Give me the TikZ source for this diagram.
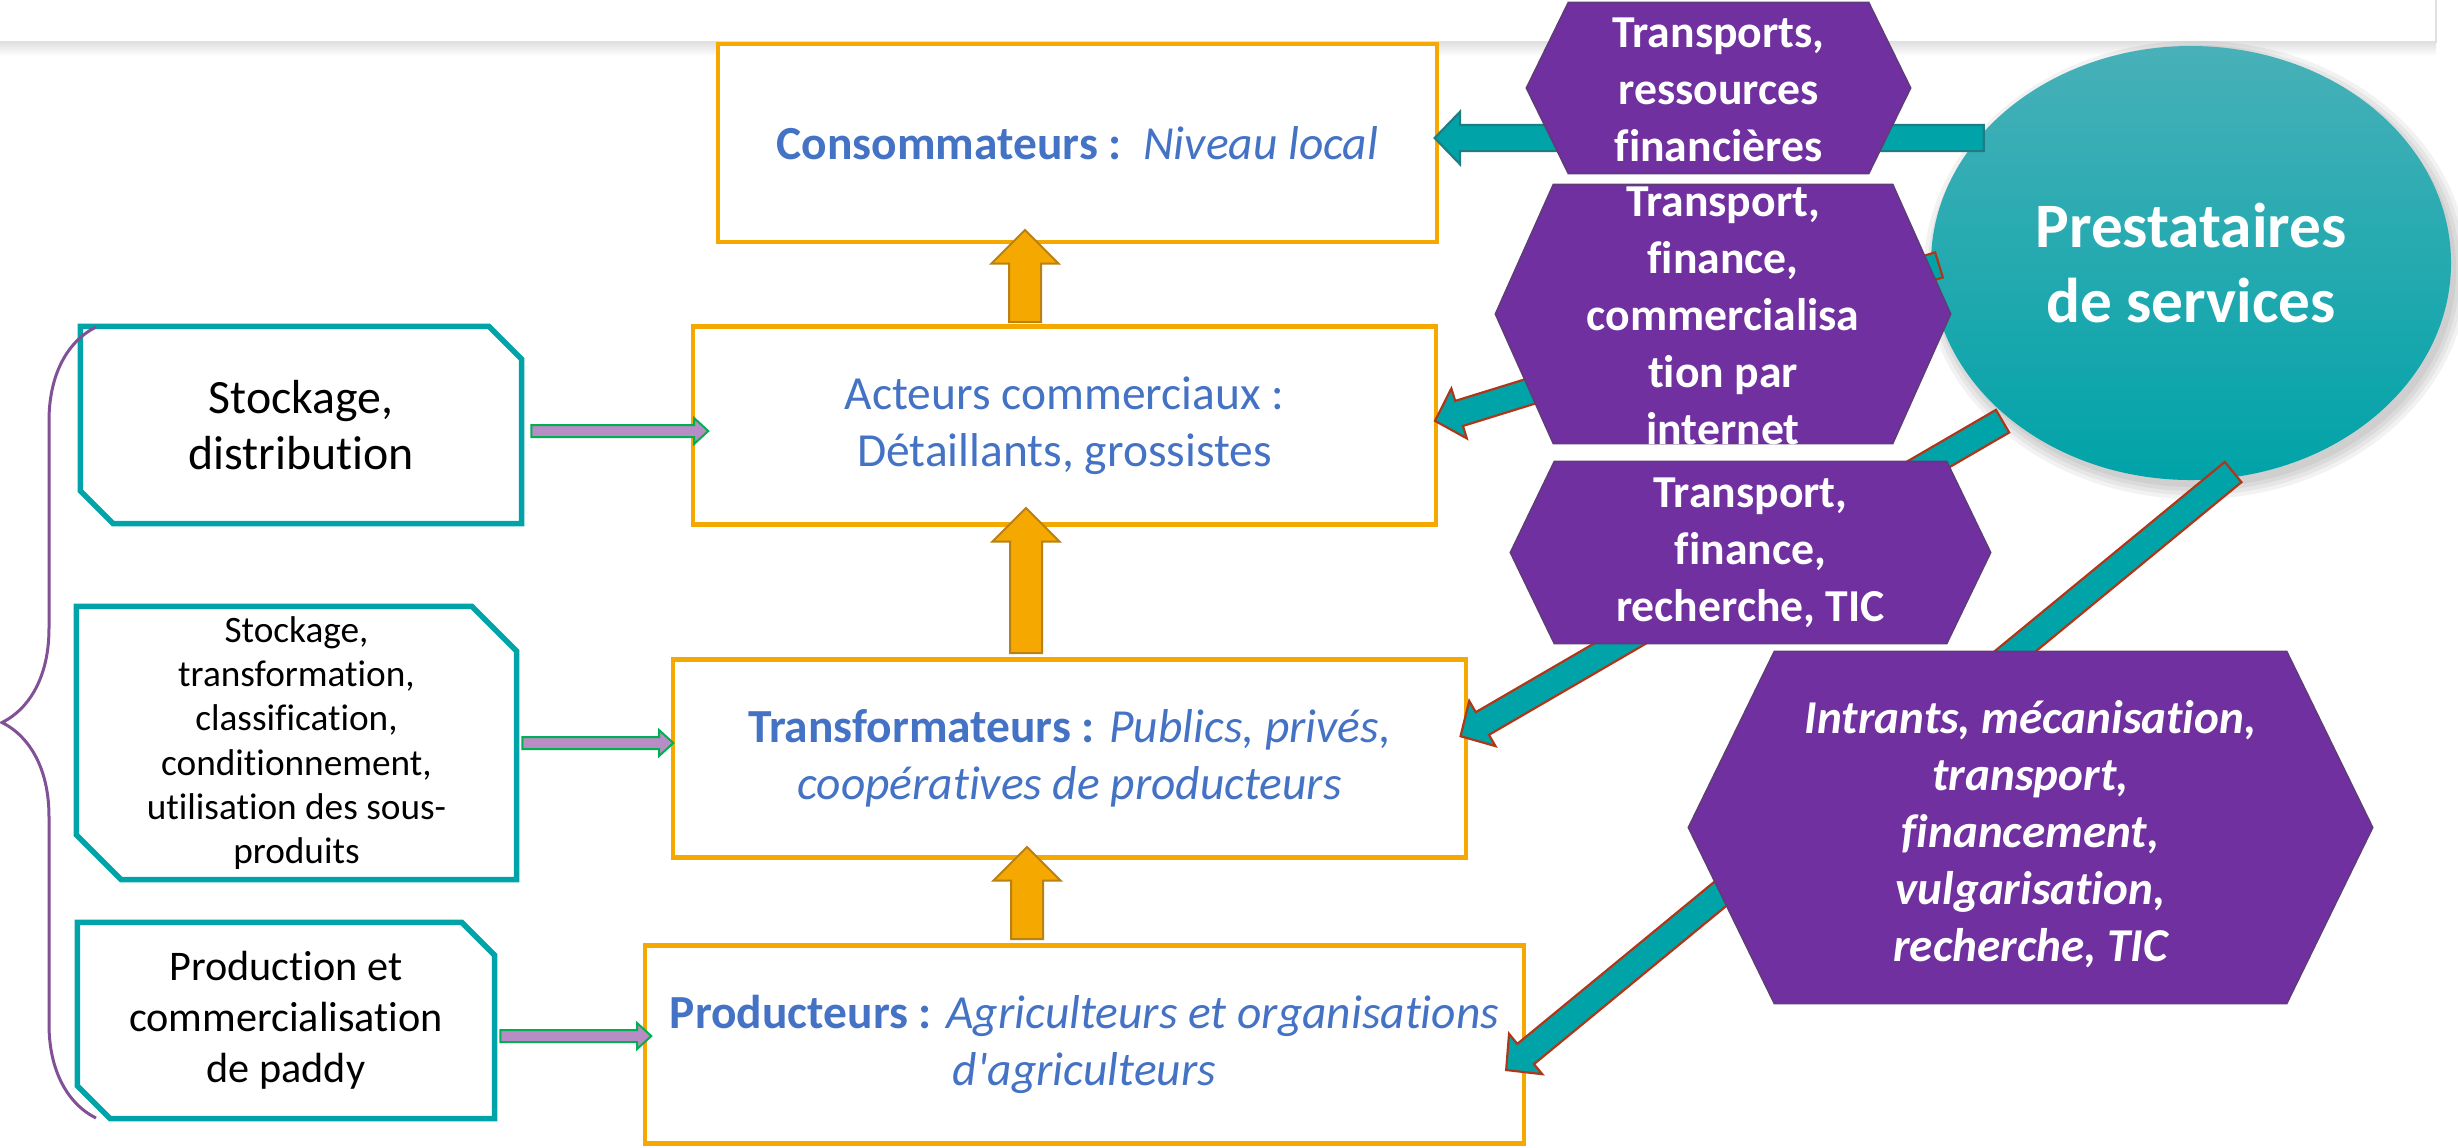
\documentclass[tikz,border=0pt]{standalone}
\usepackage{fontspec}
\setmainfont{Carlito}[Ligatures={TeX,NoCommon}]
\usetikzlibrary{shapes.arrows,shapes.geometric,calc,decorations.pathreplacing}
\newlength{\px}\setlength{\px}{0.01cm}
\definecolor{orng}{RGB}{245,168,0}
\definecolor{orngdk}{RGB}{185,128,20}
\definecolor{tealc}{RGB}{0,164,168}
\definecolor{tealdk}{RGB}{30,125,130}
\definecolor{redbr}{RGB}{175,55,25}
\definecolor{purp}{RGB}{112,48,160}
\definecolor{purpdk}{RGB}{95,60,120}
\definecolor{bluet}{RGB}{68,114,196}
\definecolor{pinkf}{RGB}{184,140,196}
\definecolor{greenb}{RGB}{0,176,80}
\definecolor{bracec}{RGB}{130,80,150}
\definecolor{elltop}{RGB}{72,176,184}
\definecolor{ellbot}{RGB}{0,163,168}
\newcommand\myhex[2]{\filldraw[fill=purp, draw=purpdk, line width=1.5\px] (#1.west) -- ([xshift=#2]#1.north west) -- ([xshift=-#2]#1.north east) -- (#1.east) -- ([xshift=-#2]#1.south east) -- ([xshift=#2]#1.south west) -- cycle;}
\newcommand\snip[2]{\draw[lline] ([xshift=-#2]#1.north east) -- (#1.north west) -- ([yshift=#2]#1.south west) -- ([xshift=#2]#1.south west) -- (#1.south east) -- ([yshift=-#2]#1.north east) -- cycle;}
\newcommand\barrow[4]{\path let \p1=(#3), \p2=(#4), \n1={veclen(\x2-\x1,\y2-\y1)}, \n2={atan2(\y2-\y1,\x2-\x1)} in node[#1, minimum height=\n1, rotate=\n2] (#2) at ($(#3)!0.5!(#4)$) {};}
\begin{document}
\begin{tikzpicture}[x=0.01cm, y=-0.01cm,
  obox/.style={draw=orng, line width=4.5\px, fill=white, minimum height=198\px, align=center, text=bluet, font=\fontsize{13.5}{16.2}\selectfont, inner sep=0pt},
  lbox/.style={align=center, inner sep=0pt, text=black},
  lline/.style={draw=tealc, line width=5.5\px, line join=miter},
  hexbox/.style={inner sep=0pt},
  hextext/.style={align=center, text=white, inner sep=0pt, font=\bfseries\fontsize{13}{16.2}\selectfont},
  oarrow/.style={single arrow, fill=orng, draw=orngdk, line width=2\px, inner xsep=0pt, inner ysep=15\px, single arrow head extend=17.5\px, single arrow tip angle=90},
  parrow/.style={single arrow, fill=pinkf, draw=greenb, line width=2\px, inner xsep=0pt, inner ysep=5\px, single arrow head extend=7\px, single arrow tip angle=85},
  tarrow/.style={single arrow, fill=tealc, draw=redbr, line width=2.2\px, inner xsep=0pt, inner ysep=12\px, single arrow head extend=13\px, single arrow tip angle=92}
]
\useasboundingbox (0,0) rectangle (2458,1147);
% header strip
\shade[top color=black!12, bottom color=white] (0,42) rectangle (2436,56);
\draw[black!12, line width=2\px] (0,42) -- (2436,42) -- (2436,0);
% ellipse shadow
\foreach \d in {12,8,4,0} {\fill[black, opacity=0.05] (2196,270) ellipse [x radius={2.6cm+\d*0.01cm}, y radius={2.17cm+\d*0.01cm}];}
\node[ellipse, minimum width=520\px, minimum height=434\px, top color=elltop, bottom color=ellbot, draw=none, text=white, font=\bfseries\fontsize{18}{21.3}\selectfont, align=center, inner sep=0pt] (prest) at (2191,263) {Prestataires\\de services};
% orange boxes
\node[obox, minimum width=719\px] (box1) at (1077.5,143) {\textbf{Consommateurs :}\ \ \textit{Niveau local}};
\node[obox, minimum width=743\px] (box2) at (1064.5,425.5) {Acteurs commerciaux :\\Détaillants, grossistes};
\node[obox, minimum width=793\px] (box3) at (1069.5,758.5) {\textbf{Transformateurs :} \textit{Publics, privés,}\\\textit{coopératives de producteurs}};
\node[obox, minimum width=879\px] (box4) at (1084.5,1044.5) {\textbf{Producteurs :} \textit{Agriculteurs et organisations}\\\textit{d\textquotesingle agriculteurs}};
% left boxes
\node[lbox, minimum width=440\px, minimum height=196\px, font=\fontsize{13.6}{16}\selectfont] (sA) at (301,425) {Stockage,\\distribution};
\snip{sA}{33\px}
\node[lbox, minimum width=439\px, minimum height=272\px, font=\fontsize{10.6}{12.6}\selectfont] (sB) at (296.5,743) {Stockage,\\transformation,\\classification,\\conditionnement,\\utilisation des sous-\\produits};
\snip{sB}{45\px}
\node[lbox, minimum width=416\px, minimum height=195\px, font=\fontsize{12}{14.5}\selectfont] (sC) at (286,1020.5) {Production et\\commercialisation\\de paddy};
\snip{sC}{33\px}
% brace
\coordinate (brb) at (96,1118);
\coordinate (brt) at (96,327);
\draw[bracec, line width=3\px, decorate, decoration={brace, amplitude=94\px, aspect=0.5}] (brb) -- (brt);
% orange arrows
\coordinate (oa1s) at (1025,330); \coordinate (oa1e) at (1025,238);
\coordinate (oa2s) at (1026,661); \coordinate (oa2e) at (1026,516);
\coordinate (oa3s) at (1027,947); \coordinate (oa3e) at (1027,855);
\barrow{oarrow}{up1}{oa1s}{oa1e}
\barrow{oarrow}{up2}{oa2s}{oa2e}
\barrow{oarrow}{up3}{oa3s}{oa3e}
% pink arrows
\coordinate (pa1s) at (528,431); \coordinate (pa1e) at (705,431);
\coordinate (pa2s) at (519,743); \coordinate (pa2e) at (670,743);
\coordinate (pa3s) at (497,1036); \coordinate (pa3e) at (648,1036);
\barrow{parrow}{pk1}{pa1s}{pa1e}
\barrow{parrow}{pk2}{pa2s}{pa2e}
\barrow{parrow}{pk3}{pa3s}{pa3e}
% teal arrows
\coordinate (t1s) at (1990,138); \coordinate (t1e) at (1441,138);
\coordinate (t2s) at (1945,263); \coordinate (t2e) at (1441,419);
\coordinate (t3s) at (2008,418); \coordinate (t3e) at (1466,733);
\coordinate (t4s) at (2238,468); \coordinate (t4e) at (1511,1066);
\barrow{tarrow, draw=tealdk}{ta1}{t1s}{t1e}
\barrow{tarrow}{ta2}{t2s}{t2e}
\barrow{tarrow}{ta3}{t3s}{t3e}
\barrow{tarrow}{ta4}{t4s}{t4e}
% hexagons
\node[hexbox, minimum width=383\px, minimum height=170\px] (h1) at (1718.5,88) {};
\myhex{h1}{42\px}
\node[hextext] (h1t) at ($(h1.center)+(0,2)$) {Transports,\\ressources\\financières};
\node[hexbox, minimum width=454\px, minimum height=258\px] (h2) at (1723,314) {};
\myhex{h2}{58\px}
\node[hextext] (h2t) at ($(h2.center)+(0,2)$) {Transport,\\finance,\\commercialisa\\tion par\\internet};
\node[hexbox, minimum width=479\px, minimum height=181\px] (h3) at (1750.5,552.5) {};
\myhex{h3}{44\px}
\node[hextext] (h3t) at (h3.center) {Transport,\\finance,\\recherche, TIC};
\node[hexbox, minimum width=683\px, minimum height=351\px] (h4) at (2030.5,827.5) {};
\myhex{h4}{86\px}
\node[hextext, font=\bfseries\itshape\fontsize{13.4}{16.2}\selectfont] (h4t) at ($(h4.center)+(0,7)$) {Intrants, mécanisation,\\transport,\\financement,\\vulgarisation,\\recherche, TIC};
\end{tikzpicture}
\end{document}
